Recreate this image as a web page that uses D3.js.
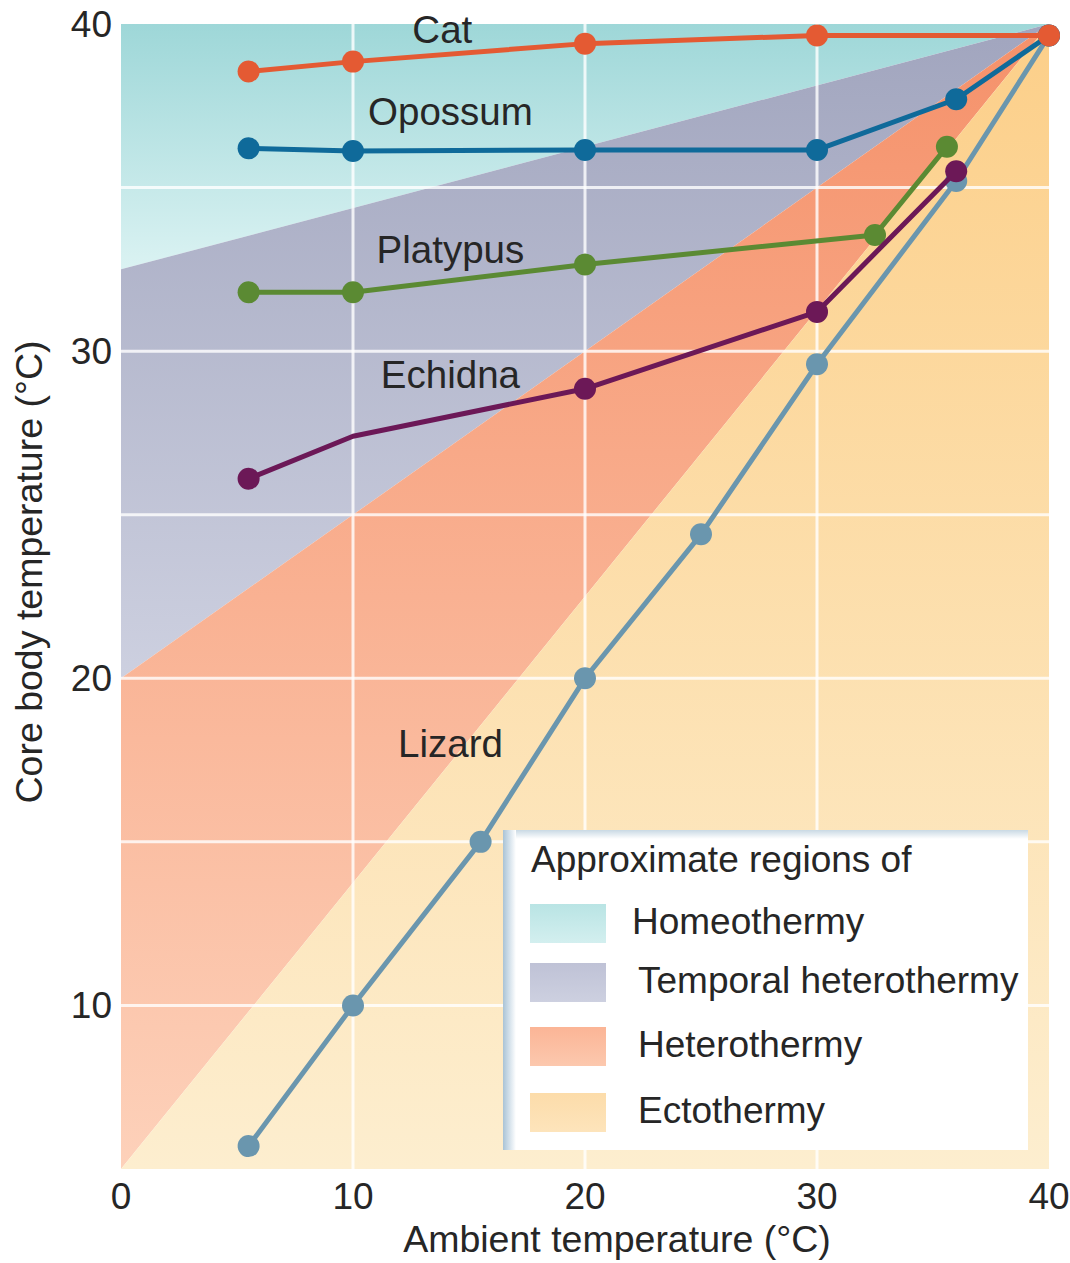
<!DOCTYPE html>
<html>
<head>
<meta charset="utf-8">
<script src="https://cdn.jsdelivr.net/npm/d3@7"></script>
<style>
  body { margin: 0; background: #fff; }
  svg { display: block; font-family: "Liberation Sans", Arial, Helvetica, sans-serif; }
</style>
</head>
<body>
<svg id="chart" width="1070" height="1263"></svg>
<script>
// === Données ===
const catX = [5.5, 10, 20, 30, 40];
const catY = [38.55, 38.85, 39.4, 39.65, 39.65];
const opossumX = [5.5, 10, 20, 30, 36, 40];
const opossumY = [36.2, 36.12, 36.15, 36.15, 37.7, 39.65];
const platypusX = [5.5, 10, 20, 32.5, 35.6];
const platypusY = [31.8, 31.8, 32.65, 33.55, 36.25];
const echidnaX = [5.5, 10, 20, 30, 36];
const echidnaY = [26.1, 27.4, 28.85, 31.2, 35.5];
const lizardX = [5.5, 10, 15.5, 20, 25, 30, 36, 40];
const lizardY = [5.7, 10, 15, 20, 24.4, 29.6, 35.2, 39.65];

// lignes de séparation des régions : température corporelle à ambiante = 0 (toutes se rejoignent en 40,40)
const regionNames = ["Homeothermy", "Temporal heterothermy", "Heterothermy", "Ectothermy"];
const regionEdges = [40, 32.5, 20, 5];

const xTicks = [0, 10, 20, 30, 40];
const yTicks = [10, 20, 30, 40];
const yGrid = [10, 15, 20, 25, 30, 35];
const xGrid = [10, 20, 30];

// === Styles ===
const SERIES = [
  { name: "Lizard",   xs: lizardX,   ys: lizardY,   color: "#6a96ae", label: [14.2, 17.6] },
  { name: "Platypus", xs: platypusX, ys: platypusY, color: "#5b8a33", label: [14.2, 32.7] },
  { name: "Echidna",  xs: echidnaX,  ys: echidnaY,  color: "#6c1857", label: [14.2, 28.87], skip: [1] },
  { name: "Opossum",  xs: opossumX,  ys: opossumY,  color: "#0f6a9a", label: [14.2, 36.9] },
  { name: "Cat",      xs: catX,      ys: catY,      color: "#e45a33", label: [13.85, 39.42] }
];
const REGION_COLORS = [
  ["#9ed7d8", "#dcf3f3", 24, 275],
  ["#a1a5be", "#cdd0e0", 24, 680],
  ["#f5916a", "#fdd1ba", 24, 1169],
  ["#fccf89", "#fdeecf", 24, 1169]
];
const SWATCH_COLORS = [
  ["#b9e4e4", "#d3efef"],
  ["#bfc2d6", "#cdd0e0"],
  ["#fbb596", "#fcc8ae"],
  ["#fcdcaa", "#fde4bb"]
];
const TEXT = "#262626";

const svg = d3.select("#chart");
const x = d3.scaleLinear().domain([0, 40]).range([121, 1049]);
const y = d3.scaleLinear().domain([5, 40]).range([1169, 24]);

const defs = svg.append("defs");
REGION_COLORS.forEach((c, i) => {
  const g = defs.append("linearGradient").attr("id", "reg" + i)
    .attr("gradientUnits", "userSpaceOnUse")
    .attr("x1", 0).attr("x2", 0).attr("y1", c[2]).attr("y2", c[3]);
  g.append("stop").attr("offset", 0).attr("stop-color", c[0]);
  g.append("stop").attr("offset", 1).attr("stop-color", c[1]);
});
SWATCH_COLORS.forEach((c, i) => {
  const g = defs.append("linearGradient").attr("id", "sw" + i)
    .attr("x1", 0).attr("x2", 0).attr("y1", 0).attr("y2", 1);
  g.append("stop").attr("offset", 0).attr("stop-color", c[0]);
  g.append("stop").attr("offset", 1).attr("stop-color", c[1]);
});
const lg = defs.append("linearGradient").attr("id", "legLeft").attr("x1", 0).attr("x2", 1).attr("y1", 0).attr("y2", 0);
lg.append("stop").attr("offset", 0).attr("stop-color", "#a9c3d6");
lg.append("stop").attr("offset", 1).attr("stop-color", "#ffffff");
const lt = defs.append("linearGradient").attr("id", "legTop").attr("x1", 0).attr("x2", 0).attr("y1", 0).attr("y2", 1);
lt.append("stop").attr("offset", 0).attr("stop-color", "#c9d9e4");
lt.append("stop").attr("offset", 1).attr("stop-color", "#ffffff");

// === Régions ===
function regionPoly(i) {
  if (i < regionEdges.length - 1) return [[0, regionEdges[i]], [40, 40], [0, regionEdges[i + 1]]];
  return [[0, regionEdges[i]], [40, 40], [40, 5]];
}
svg.append("g").selectAll("path")
  .data(regionNames)
  .join("path")
  .attr("d", (d, i) => d3.line().x(p => x(p[0])).y(p => y(p[1]))(regionPoly(i)) + "Z")
  .attr("fill", (d, i) => `url(#reg${i})`);

// === Grille ===
const grid = svg.append("g").attr("stroke", "#fff").attr("stroke-width", 3).attr("stroke-opacity", 0.8);
grid.selectAll("line.v").data(xGrid).join("line").attr("class", "v")
  .attr("x1", d => x(d)).attr("x2", d => x(d)).attr("y1", y(40)).attr("y2", y(5));
grid.selectAll("line.h").data(yGrid).join("line").attr("class", "h")
  .attr("y1", d => y(d)).attr("y2", d => y(d)).attr("x1", x(0)).attr("x2", x(40));

// === Axes (textes seulement) ===
svg.append("g").selectAll("text").data(xTicks).join("text")
  .attr("x", d => x(d)).attr("y", 1209)
  .attr("text-anchor", "middle").attr("font-size", 37).attr("fill", TEXT)
  .text(d => d);
svg.append("g").selectAll("text").data(yTicks).join("text")
  .attr("x", 112).attr("y", d => y(d) + 13)
  .attr("text-anchor", "end").attr("font-size", 37).attr("fill", TEXT)
  .text(d => d);
svg.append("text").attr("x", 617).attr("y", 1252)
  .attr("text-anchor", "middle").attr("font-size", 37.5).attr("fill", TEXT)
  .text("Ambient temperature (°C)");
svg.append("text").attr("transform", "translate(42,572) rotate(-90)")
  .attr("text-anchor", "middle").attr("font-size", 37.5).attr("fill", TEXT)
  .text("Core body temperature (°C)");

// === Séries ===
const line = d3.line().x(d => x(d[0])).y(d => y(d[1]));
SERIES.forEach(s => {
  const pts = s.xs.map((v, i) => [v, s.ys[i]]);
  const g = svg.append("g");
  g.append("path").datum(pts)
    .attr("d", line).attr("fill", "none")
    .attr("stroke", s.color).attr("stroke-width", 5)
    .attr("stroke-linejoin", "round");
  g.selectAll("circle").data(pts.filter((p, i) => !(s.skip || []).includes(i)))
    .join("circle")
    .attr("cx", d => x(d[0])).attr("cy", d => y(d[1])).attr("r", 11)
    .attr("fill", s.color);
  svg.append("text")
    .attr("x", x(s.label[0])).attr("y", y(s.label[1]))
    .attr("text-anchor", "middle").attr("font-size", 38.5).attr("fill", TEXT)
    .text(s.name);
});

// === Légende ===
const leg = svg.append("g").attr("transform", "translate(503,830)");
leg.append("rect").attr("width", 525).attr("height", 320).attr("fill", "#fff");
leg.append("rect").attr("width", 525).attr("height", 9).attr("fill", "url(#legTop)");
leg.append("rect").attr("width", 13).attr("height", 320).attr("fill", "url(#legLeft)");
leg.append("text").attr("x", 28).attr("y", 42)
  .attr("font-size", 37).attr("fill", TEXT).text("Approximate regions of");
const rowY = [74, 133, 197, 263];
const textX = [129, 135, 135, 135];
const item = leg.selectAll("g.item").data(regionNames).join("g").attr("class", "item")
  .attr("transform", (d, i) => `translate(0,${rowY[i]})`);
item.append("rect").attr("x", 27).attr("width", 76).attr("height", 39)
  .attr("fill", (d, i) => `url(#sw${i})`);
item.append("text").attr("x", (d, i) => textX[i]).attr("y", 30)
  .attr("font-size", 37).attr("fill", TEXT).text(d => d);
</script>
</body>
</html>
